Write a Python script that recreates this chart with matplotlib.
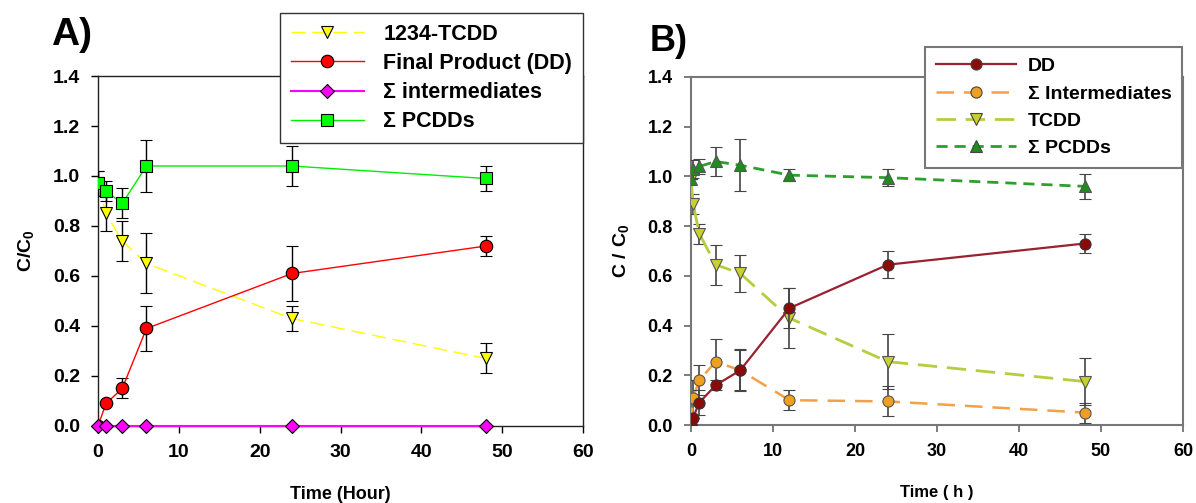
import matplotlib
matplotlib.use("Agg")
import matplotlib.pyplot as plt
from matplotlib.lines import Line2D

plt.rcParams['font.family'] = ['Liberation Sans', 'DejaVu Sans']
plt.rcParams['font.weight'] = 'bold'
plt.rcParams['mathtext.fontset'] = 'custom'
plt.rcParams['mathtext.rm'] = 'Liberation Sans:bold'
plt.rcParams['mathtext.bf'] = 'Liberation Sans:bold'
plt.rcParams['mathtext.it'] = 'Liberation Sans:bold'

# ---------------- Panel A data ----------------
time_a = [0, 1, 3, 6, 24, 48]
tcdd_a = [0.97, 0.85, 0.74, 0.65, 0.43, 0.27]
tcdd_a_err = [0.05, 0.07, 0.08, 0.12, 0.05, 0.06]
dd_a = [0.0, 0.09, 0.15, 0.39, 0.61, 0.72]
dd_a_err = [0.0, 0.0, 0.04, 0.09, 0.11, 0.04]
inter_a = [0.0, 0.0, 0.0, 0.0, 0.0, 0.0]
pcdd_a = [0.97, 0.94, 0.89, 1.04, 1.04, 0.99]
pcdd_a_err = [0.05, 0.04, 0.06, 0.105, 0.08, 0.05]
labels_a = ['1234-TCDD', 'Final Product (DD)', 'Σ intermediates', 'Σ PCDDs']

# ---------------- Panel B data ----------------
time_b = [0, 0.25, 1, 3, 6, 12, 24, 48]
dd_b = [0.0, 0.03, 0.09, 0.16, 0.22, 0.47, 0.645, 0.73]
dd_b_err = [0.0, 0.0, 0.05, 0.02, 0.08, 0.08, 0.055, 0.04]
inter_b = [0.0, 0.11, 0.18, 0.255, 0.22, 0.10, 0.095, 0.05]
inter_b_err = [0.0, 0.07, 0.06, 0.09, 0.085, 0.04, 0.06, 0.04]
tcdd_b = [0.99, 0.89, 0.77, 0.645, 0.61, 0.43, 0.255, 0.175]
tcdd_b_err = [0.0, 0.04, 0.04, 0.08, 0.075, 0.12, 0.11, 0.095]
pcdd_b = [0.99, 1.03, 1.04, 1.06, 1.045, 1.005, 0.995, 0.96]
pcdd_b_err = [0.0, 0.035, 0.03, 0.06, 0.105, 0.025, 0.035, 0.05]
labels_b = ['DD', 'Σ Intermediates', 'TCDD', 'Σ PCDDs']

xticks = [0, 10, 20, 30, 40, 50, 60]
yticks = [0.0, 0.2, 0.4, 0.6, 0.8, 1.0, 1.2, 1.4]

fig = plt.figure(figsize=(11.96, 5.03), dpi=100)

# ================= Panel A =================
styA = [
    dict(color='#FFFF00', lw=1.0, dashes=(10, 5), marker='v', ms=8.5, mfc='#FFFF00'),
    dict(color='#FF0000', lw=1.0, marker='o', ms=9, mfc='#FF0000'),
    dict(color='#FF00FF', lw=1.5, marker='D', ms=7.5, mfc='#FF00FF'),
    dict(color='#00EE00', lw=1.0, marker='s', ms=8.5, mfc='#00FF00'),
]
axA = fig.add_axes([0.0819, 0.1531, 0.4056, 0.6958])
ebA = dict(ecolor='black', elinewidth=1.0, capsize=4.5, capthick=1.0)
axA.errorbar(time_a, tcdd_a, yerr=tcdd_a_err, mec='black', mew=0.8, zorder=3, **styA[0], **ebA)
axA.errorbar(time_a, dd_a, yerr=dd_a_err, mec='black', mew=0.8, zorder=4, **styA[1], **ebA)
axA.plot(time_a, inter_a, mec='black', mew=0.8, zorder=5, clip_on=False, **styA[2])
axA.errorbar(time_a, pcdd_a, yerr=pcdd_a_err, mec='black', mew=0.8, zorder=6, **styA[3], **ebA)
axA.set_xlim(0, 60)
axA.set_ylim(0, 1.4)
axA.set_xticks(xticks)
axA.set_yticks(yticks)
axA.set_yticklabels([f'{v:.1f}' for v in yticks])
axA.tick_params(labelsize=14, direction='out', length=5, width=1, pad=8)
for s in axA.spines.values():
    s.set_linewidth(1.0)
    s.set_color('#222222')
axA.set_xlabel('Time (Hour)', fontsize=13, fontweight='bold', labelpad=18)
axA.set_ylabel(r'$\mathrm{C/C_0}$', fontsize=14, labelpad=12)
fig.text(0.043, 0.93, 'A)', fontsize=28, fontweight='bold', va='center')
handlesA = [Line2D([], [], mec='black', mew=0.8, **st) for st in styA]
legA = axA.legend(handlesA, labels_a, loc='upper right', bbox_to_anchor=(0.4875, 0.974),
                  bbox_transform=fig.transFigure, fontsize=15.5, frameon=True,
                  fancybox=False, edgecolor='#333333', framealpha=1,
                  handlelength=3.4, handletextpad=0.9, labelspacing=0.38,
                  borderpad=0.5, numpoints=1, borderaxespad=0)
legA.get_frame().set_linewidth(1.0)
legA.set_zorder(10)

# ================= Panel B =================
styB = [
    dict(color='#9B2030', lw=1.6, marker='o', ms=8, mfc='#8B0A0A'),
    dict(color='#F4A04A', lw=1.8, dashes=(7, 4), marker='o', ms=8, mfc='#F0A020'),
    dict(color='#B8CC40', lw=2.0, dashes=(7, 3.5), marker='v', ms=8, mfc='#C8D030'),
    dict(color='#2E9E2E', lw=2.0, dashes=(4, 2.5), marker='^', ms=8, mfc='#1E8C1E'),
]
axB = fig.add_axes([0.5778, 0.155, 0.4113, 0.692])
ebB = dict(ecolor='#444444', elinewidth=1.2, capsize=4.5, capthick=1.2)
axB.errorbar(time_b, dd_b, yerr=dd_b_err, mec='#333333', mew=0.8, zorder=5, **styB[0], **ebB)
axB.errorbar(time_b, inter_b, yerr=inter_b_err, mec='#555555', mew=0.8, zorder=4, **styB[1], **ebB)
axB.errorbar(time_b, tcdd_b, yerr=tcdd_b_err, mec='#555555', mew=0.8, zorder=3, **styB[2], **ebB)
axB.errorbar(time_b, pcdd_b, yerr=pcdd_b_err, mec='#555555', mew=0.8, zorder=6, **styB[3], **ebB)
axB.set_xlim(0, 60)
axB.set_ylim(0, 1.4)
axB.set_xticks(xticks)
axB.set_yticks(yticks)
axB.set_yticklabels([f'{v:.1f}' for v in yticks])
axB.tick_params(labelsize=13, direction='out', length=5, width=1.2,
                color='#666666', pad=8)
for s in axB.spines.values():
    s.set_linewidth(1.5)
    s.set_color('#777777')
axB.set_xlabel('Time ( h )', fontsize=12, fontweight='bold', labelpad=18)
axB.set_ylabel(r'$\mathrm{C\ /\ C_0}$', fontsize=14, labelpad=12)
fig.text(0.543, 0.917, 'B)', fontsize=26, fontweight='bold', va='center')
handlesB = [Line2D([], [], mec='#444444', mew=0.8, **st) for st in styB]
legB = axB.legend(handlesB, labels_b, loc='upper right', bbox_to_anchor=(0.9883, 0.9066),
                  bbox_transform=fig.transFigure, fontsize=14, frameon=True,
                  fancybox=False, edgecolor='#777777', framealpha=1,
                  handlelength=4.1, handletextpad=0.6, labelspacing=0.5,
                  borderpad=0.55, numpoints=1, borderaxespad=0)
legB.get_frame().set_linewidth(1.5)
legB.set_zorder(10)

fig.savefig('out.png', dpi=100)
